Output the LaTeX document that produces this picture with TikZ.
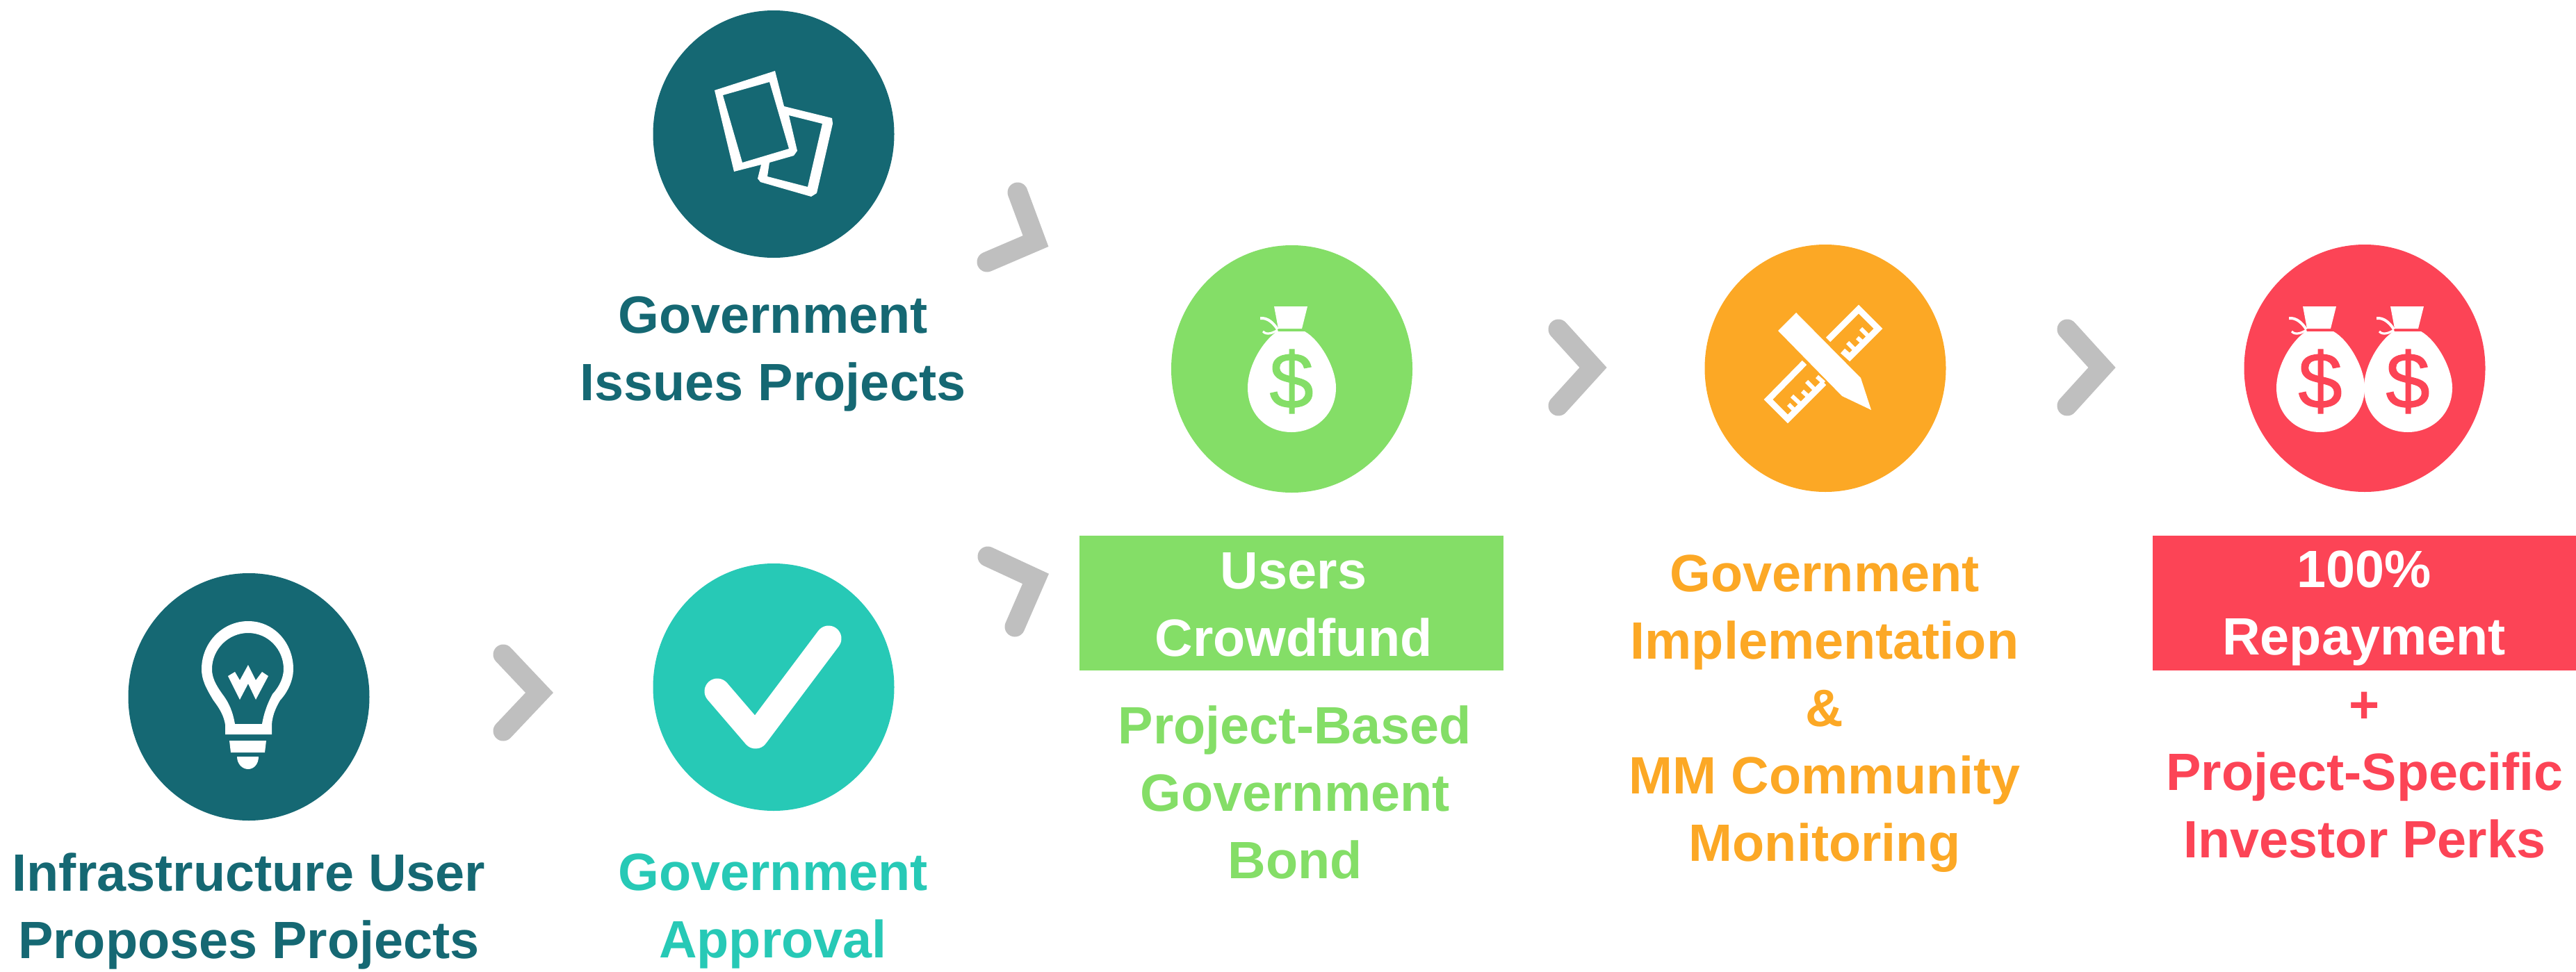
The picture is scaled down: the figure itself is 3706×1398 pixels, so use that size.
\documentclass[tikz,border=0pt]{standalone}
\usepackage{fontspec}
\setmainfont{Liberation Sans}
\newfontfamily\dollarfont[FakeBold=1]{Liberation Sans}
\definecolor{teal1}{HTML}{156873}
\definecolor{mint}{HTML}{27C9B6}
\definecolor{lime}{HTML}{84DE67}
\definecolor{amber}{HTML}{FCA825}
\definecolor{rosy}{HTML}{FC4456}
\definecolor{chev}{HTML}{BFBFBF}
\newcommand{\labelfont}{\fontsize{37.8pt}{48.5pt}\bfseries\selectfont}
\usetikzlibrary{shapes.geometric}
\tikzset{
  x=0.5pt,y=-0.5pt,
  disc/.style={ellipse,minimum width=173.5pt,minimum height=178pt,inner sep=0pt,fill=#1},
  chevron/.style={draw=chev,line width=14.5pt,line cap=round,line join=miter,miter limit=10},
  cap/.style={align=center,font=\labelfont,text=#1,inner sep=0pt},
  band/.style={fill=#1,inner sep=0pt,minimum width=305pt,minimum height=97pt},
}
\newcommand{\moneybag}[3]{%
  \begin{scope}[shift={(#1,0)}]
    \fill[white] (1833,441)--(1881,441)--(1873,473)--(1839,473)--cycle;
    \fill[white] (1837,477)--(1877,477) .. controls (1900,490) and (1922,530) .. (1922,558)
      .. controls (1922,596) and (1893,622) .. (1858,622)
      .. controls (1822,622) and (1795,596) .. (1795,558)
      .. controls (1795,530) and (1812,498) .. (1832,481)--cycle;
    \draw[white,line width=2pt] (1813,458) .. controls (1824,457) and (1832,465) .. (1838,474);
    \draw[white,line width=1.6pt] (1817,477) .. controls (1822,483) and (1832,479) .. (1838,475);
    \node[inner sep=0pt,text=#2,font=\dollarfont\fontsize{57pt}{57pt}\selectfont] (#3) at (1858,549) {\$};
  \end{scope}}
\begin{document}
\begin{tikzpicture}
\useasboundingbox (0,0) rectangle (3706,1398);
% discs
\node[disc=teal1] (d1) at (1113,193) {};
\node[disc=teal1] (d2) at (358,1003) {};
\node[disc=mint] (d3) at (1113,989) {};
\node[disc=lime] (d4) at (1858.5,531) {};
\node[disc=amber] (d5) at (2626,530) {};
\node[disc=rosy] (d6) at (3402,530) {};
% chevrons
\draw[chevron] (1464,277)--(1490,347)--(1420,377);
\draw[chevron] (1421,801)--(1490,833)--(1460,902);
\draw[chevron] (724,942)--(776,997)--(724,1052);
\draw[chevron] (2242,474)--(2292,529)--(2242,584);
\draw[chevron] (2974,474)--(3024,529)--(2974,584);
% sheets icon
\fill[white,even odd rule] (1028,130)--(1115,102)--(1128,153)--(1197,170)--(1198,178)--(1175,278)--(1167,283)--(1094,262)--(1090,257)--(1095,237)--(1056,247)--cycle
  (1040,137)--(1107,118)--(1135,214)--(1068,234)--cycle
  (1135,166)--(1183,178)--(1162,269)--(1104,254)--(1107,234)--(1142,224)--(1147,217)--cycle;
% bulb icon
\fill[white,even odd rule] (324,1057)--(324,1043) .. controls (322,1030) and (316,1020) .. (307,1008)
  .. controls (296,990) and (290,978) .. (290,963)
  .. controls (290,925) and (320,894) .. (357,894)
  .. controls (394,894) and (422,925) .. (422,963)
  .. controls (422,978) and (415,995) .. (403,1008)
  .. controls (396,1020) and (392,1030) .. (391,1043)--(391,1057)--cycle
  (338,1042) .. controls (335,1025) and (330,1012) .. (320,999)
  .. controls (310,985) and (305,975) .. (305,963)
  .. controls (305,935) and (328,911) .. (357,911)
  .. controls (386,911) and (408,935) .. (408,963)
  .. controls (408,975) and (402,988) .. (392,999)
  .. controls (385,1012) and (380,1025) .. (377,1042)--cycle;
\fill[white] (330,1066)--(383,1066)--(381,1083)--(332,1083)--cycle;
\fill[white] (341,1089)--(372,1089) .. controls (372,1100) and (365,1107) .. (357,1107) .. controls (349,1107) and (341,1100) .. (341,1089)--cycle;
\fill[white] (328,973)--(338,967)--(345,979)--(357,957)--(368,979)--(377,967)--(386,973)--(368,1007)--(357,984)--(345,1007)--cycle;
% check icon
\draw[white,line width=18.5pt,line cap=round,line join=round] (1032,995)--(1087,1059)--(1192,919);
% money bags
\moneybag{0}{lime}{s1}
\moneybag{1480}{rosy}{s2}
\moneybag{1606}{rosy}{s3}
% pencil and ruler
\fill[white] (2584,450)--(2558,476)--(2650,570)--(2692,590)--(2677,544)--cycle;
\draw[white,line width=4.5pt,line join=miter] (2630,489)--(2674,445)--(2702,473)--(2661,514)--(2651,505);
\draw[white,line width=4.5pt,line join=miter] (2596,522)--(2544,575)--(2572,603)--(2624,551);
\draw[white,line width=3pt] (2677,473)--(2689,485) (2672,486)--(2681,494) (2658,493)--(2670,505) (2654,506)--(2662,513)
  (2599,549)--(2612,562) (2593,563)--(2603,572) (2578,570)--(2592,583) (2573,582)--(2583,592) (2614,542)--(2624,551);
% bands
\node[band=lime] (b1) at (1858,868) {};
\node[band=rosy] (b2) at (3401.5,868) {};
% captions
\node[cap=teal1] (t1) at (1112,509) {Government\\Issues Projects};
\node[cap=teal1] (t2) at (358,1311) {Infrastructure User\\Proposes Projects};
\node[cap=mint] (t3) at (1112,1311) {Government\\Approval};
\node[cap=white] (t4) at (1861,870) {Users\\Crowdfund};
\node[cap=lime] (t5) at (1863,1140) {Project-Based\\Government\\Bond};
\node[cap=amber] (t6) at (2625,1027) {Government\\Implementation\\\&\\MM Community\\Monitoring};
\node[cap=white] (t7) at (3401,875) {100\%\\Repayment};
\node[cap=rosy] (t8) at (3402,1116) {+\\Project-Specific\\Investor Perks};
\end{tikzpicture}
\end{document}
